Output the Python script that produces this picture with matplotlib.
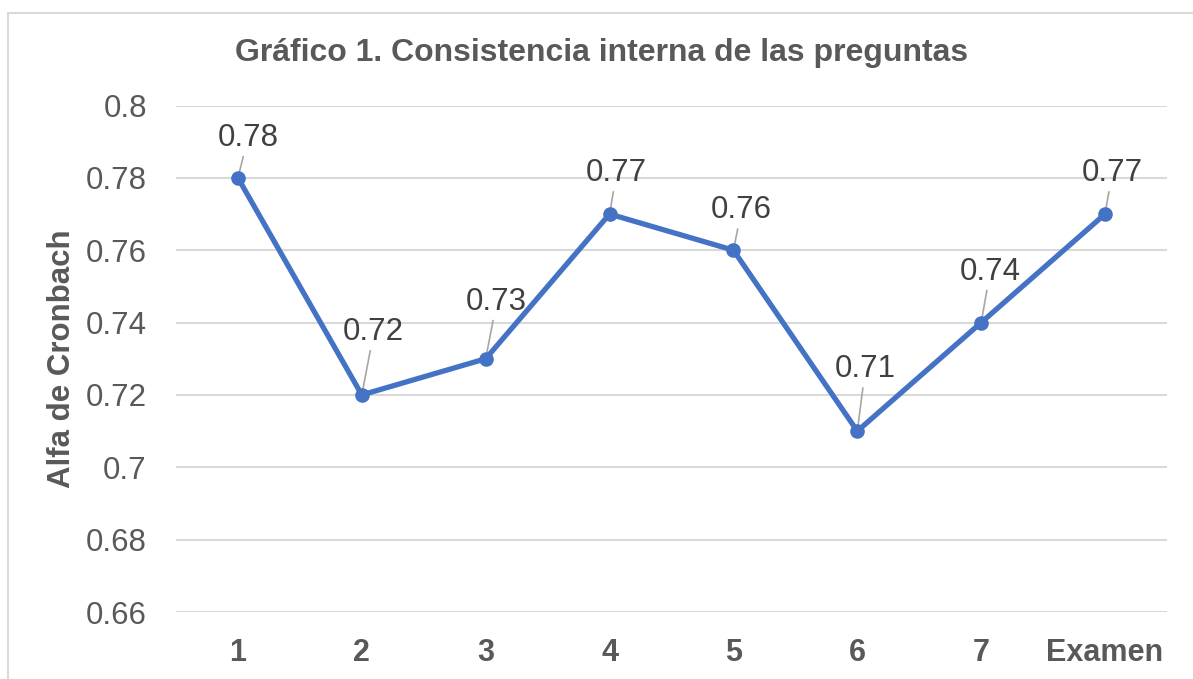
import matplotlib
matplotlib.use("Agg")
import matplotlib.pyplot as plt
from matplotlib.patches import Rectangle

categories = ["1", "2", "3", "4", "5", "6", "7", "Examen"]
alpha_values = [0.78, 0.72, 0.73, 0.77, 0.76, 0.71, 0.74, 0.77]
y_ticks = [0.66, 0.68, 0.70, 0.72, 0.74, 0.76, 0.78, 0.80]
title = "Gráfico 1. Consistencia interna de las preguntas"
y_label = "Alfa de Cronbach"

# label offsets in pixels (dx, dy) from each point
label_offsets = [(10, 40), (12, 63), (11, 57), (7, 41), (8, 40), (8, 62), (9, 51), (7, 41)]

plt.rcParams['font.family'] = ['Liberation Sans', 'DejaVu Sans']

W, H = 1193, 679
fig = plt.figure(figsize=(W / 100, H / 100), dpi=100)
ax = fig.add_axes([176 / W, 1 - 612 / H, (1167 - 176) / W, (612 - 105.5) / H])

x = list(range(len(categories)))
ax.plot(x, alpha_values, color="#4472C4", lw=3.8, marker="o", markersize=9.5,
        solid_capstyle="round", zorder=3)

for xi, v, (dx, dy) in zip(x, alpha_values, label_offsets):
    ax.annotate(f"{v:g}", xy=(xi, v), xytext=(dx, dy), textcoords="offset pixels",
                ha="center", va="center", fontsize=22.5, color="#404040",
                bbox=dict(boxstyle="square,pad=0.12", fc="none", ec="none"),
                arrowprops=dict(arrowstyle="-", color="#A6A6A6", lw=1.2,
                                shrinkA=0, shrinkB=0),
                zorder=2)

ax.set_xlim(-0.5, len(categories) - 0.5)
ax.set_ylim(0.66, 0.80)
ax.set_yticks(y_ticks)
ax.set_yticklabels([f"{t:g}" for t in y_ticks])
ax.set_xticks(x)
ax.set_xticklabels(categories, fontweight="bold")
ax.tick_params(axis="y", length=0, pad=21, labelsize=22.5, labelcolor="#595959")
ax.tick_params(axis="x", length=0, pad=19, labelsize=22, labelcolor="#595959")
ax.grid(axis="y", color="#D9D9D9", lw=1.5, zorder=0)
ax.set_axisbelow(True)
for s in ax.spines.values():
    s.set_visible(False)

ax.set_ylabel(y_label, fontsize=22.5, fontweight="bold", color="#595959")
ax.yaxis.set_label_coords((77 - 176) / (1167 - 176), 0.5)

fig.text(602 / W, 1 - 53 / H, title, ha="center", va="center",
         fontsize=23, fontweight="bold", color="#595959")

# chart frame (partially visible)
fig.add_artist(Rectangle((8 / W, -0.1), 1.2, 1.1 - 13 / H, transform=fig.transFigure,
                         fill=False, ec="#D9D9D9", lw=1.5))

fig.savefig("out.png", dpi=100, facecolor="white")
